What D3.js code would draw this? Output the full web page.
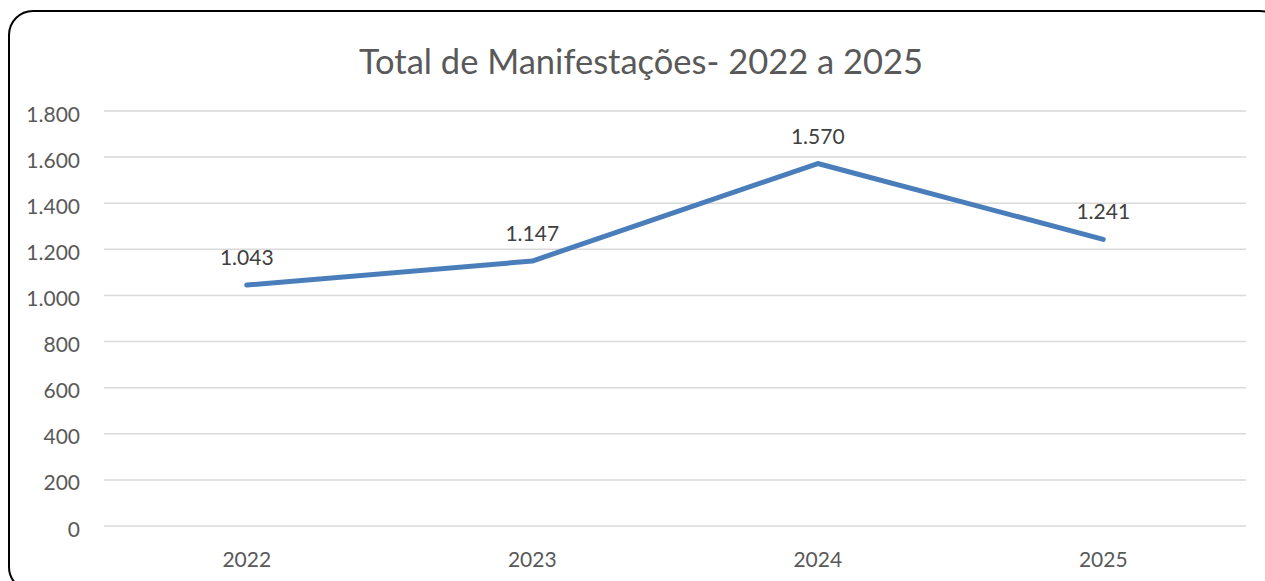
<!DOCTYPE html>
<html><head><meta charset="utf-8">
<script src="https://cdn.jsdelivr.net/npm/d3@7"></script>
<style>html,body{margin:0;padding:0;background:#fff;overflow:hidden}</style>
</head><body>
<svg id="c" width="1265" height="581"></svg>
<script>
const categories = ["2022","2023","2024","2025"];
const values = [1043,1147,1570,1241];
const valueLabels = ["1.043","1.147","1.570","1.241"];
const yTicks = [0,200,400,600,800,1000,1200,1400,1600,1800];
const yTickLabels = ["0","200","400","600","800","1.000","1.200","1.400","1.600","1.800"];
const title = "Total de Manifestações- 2022 a 2025";

const FONT = "Lato, 'Open Sans', sans-serif";
const svg = d3.select("#c");
svg.append("rect").attr("x",9).attr("y",11).attr("width",1275).attr("height",580)
  .attr("rx",24).attr("fill","#fff").attr("stroke","#000").attr("stroke-width",2);

const x = d3.scaleBand().domain(categories).range([104,1246]);
const y = d3.scaleLinear().domain([0,1800]).range([525.5,110.5]);

svg.append("text").attr("x",641).attr("y",74).attr("text-anchor","middle")
  .attr("font-family",FONT).attr("font-size",34.5).attr("fill","#595959").text(title);

const gy = svg.append("g").attr("transform","translate(104,0)")
  .call(d3.axisLeft(y).tickValues(yTicks).tickSize(-1142).tickPadding(24)
    .tickFormat((d,i)=>yTickLabels[i]));
gy.select(".domain").remove();
gy.selectAll(".tick line").attr("stroke","#d9d9d9").attr("stroke-width",1.5);
gy.selectAll(".tick text").attr("font-family",FONT).attr("font-size",21).attr("fill","#595959").attr("dy","0.5em");

const gx = svg.append("g").attr("transform","translate(0,525.5)")
  .call(d3.axisBottom(x).tickSize(0).tickPadding(27));
gx.select(".domain").remove();
gx.selectAll(".tick text").attr("font-family",FONT).attr("font-size",21).attr("fill","#595959");

const line = d3.line().x((d,i)=>x(categories[i])+x.bandwidth()/2).y(d=>y(d));
svg.append("path").datum(values).attr("d",line).attr("fill","none")
  .attr("stroke","#4a7ebb").attr("stroke-width",5).attr("stroke-linecap","round").attr("stroke-linejoin","round");

svg.selectAll(".lbl").data(values).enter().append("text").attr("class","lbl")
  .attr("x",(d,i)=>x(categories[i])+x.bandwidth()/2).attr("y",d=>y(d)-20)
  .attr("text-anchor","middle").attr("font-family",FONT).attr("font-size",21).attr("fill","#404040")
  .text((d,i)=>valueLabels[i]);
</script>
</body></html>
